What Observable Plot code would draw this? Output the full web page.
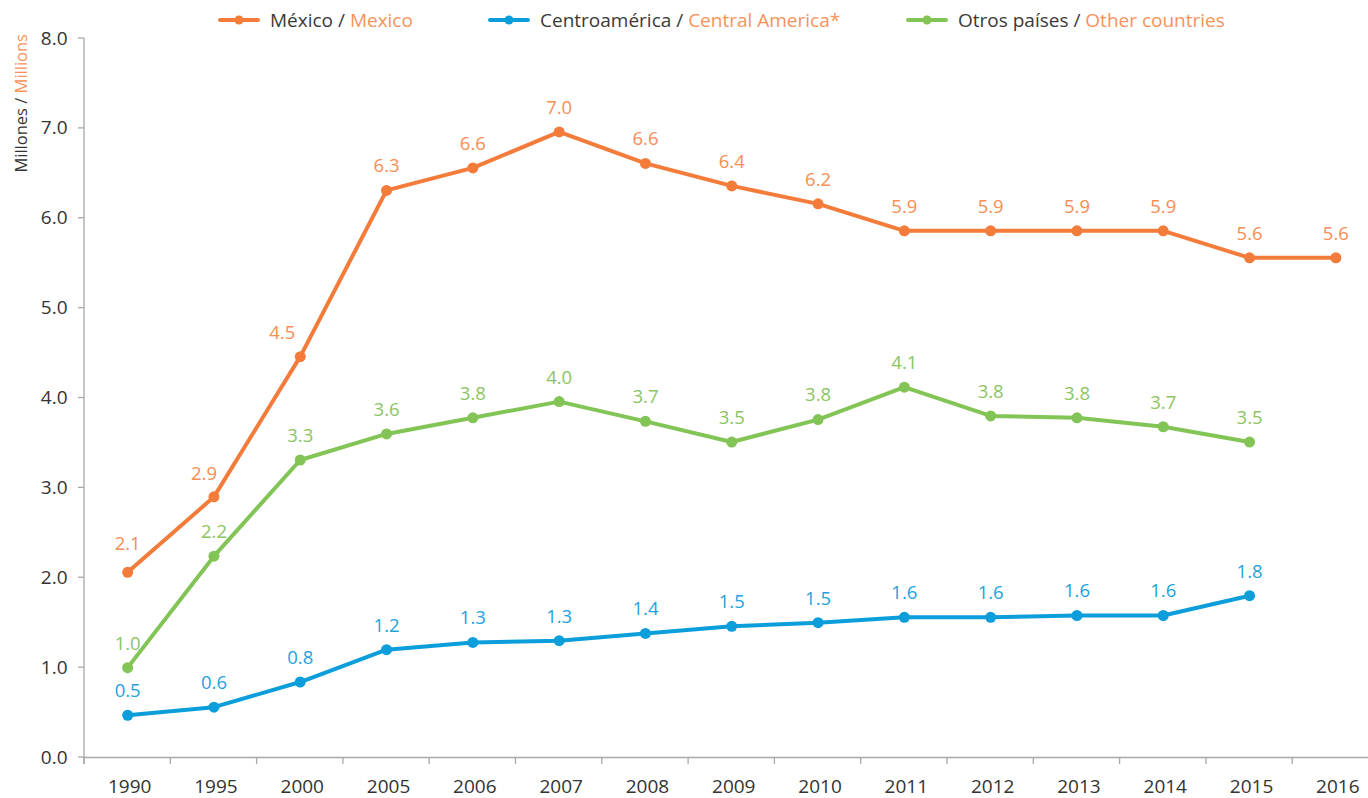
<!DOCTYPE html>
<html>
<head>
<meta charset="utf-8">
<script src="https://cdn.jsdelivr.net/npm/d3@7"></script>
<script src="https://cdn.jsdelivr.net/npm/@observablehq/plot@0.6"></script>
<style>
  html, body { margin: 0; padding: 0; background: #fff; }
  body { font-family: "Open Sans", sans-serif; }
  #wrap { position: relative; width: 1368px; height: 798px; overflow: hidden; }
  #legend { position: relative; width: 1368px; height: 0; z-index: 2; }
  .item { position: absolute; top: 8px; height: 24px; display: flex; align-items: center;
          font-size: 19px; color: #3a3a3a; white-space: nowrap; }
  .item svg { margin-right: 10px; }
  .en { color: #f7925a; }
  #chart svg { display: block; }
</style>
</head>
<body>
<div id="wrap">
  <div id="legend"></div>
  <div id="chart"></div>
</div>
<script>
// ---- data ----
const years = ["1990","1995","2000","2005","2006","2007","2008","2009","2010","2011","2012","2013","2014","2015","2016"];
const mexico = [2.06, 2.90, 4.46, 6.31, 6.56, 6.96, 6.61, 6.36, 6.16, 5.86, 5.86, 5.86, 5.86, 5.56, 5.56];
const centralAmerica = [0.47, 0.56, 0.84, 1.20, 1.28, 1.30, 1.38, 1.46, 1.50, 1.56, 1.56, 1.58, 1.58, 1.80, null];
const otherCountries = [1.00, 2.24, 3.31, 3.60, 3.78, 3.96, 3.74, 3.51, 3.76, 4.12, 3.80, 3.78, 3.68, 3.51, null];
const seriesEs = ["México", "Centroamérica", "Otros países"];
const seriesEn = ["Mexico", "Central America*", "Other countries"];
const yTicks = [0, 1, 2, 3, 4, 5, 6, 7, 8];
const yLabelEs = "Millones";
const yLabelEn = "Millions";

// ---- styles ----
const lineColors = ["#f47c3a", "#0b9edb", "#82c455"];
const labelColors = ["#f68e55", "#22a3dd", "#8cc463"];
const legendLeft = [218, 488, 906];
// label nudges (pixels) for labels moved off the line in the original
const labelNudge = {"México|1990": [0, -28], "México|1995": [-10, -23], "México|2000": [-18, -24]};
const defaultNudge = [0, -24];

const allValues = [mexico, centralAmerica, otherCountries];
const seriesRows = allValues.map((vals, s) =>
  years.map((year, i) => ({year, value: vals[i], series: seriesEs[s]})).filter(d => d.value != null)
);
const nudge = d => labelNudge[d.series + "|" + d.year] || defaultNudge;

// ---- legend ----
const legend = document.getElementById("legend");
seriesEs.forEach((name, s) => {
  const item = document.createElement("div");
  item.className = "item";
  item.style.left = legendLeft[s] + "px";
  item.innerHTML =
    `<svg width="42" height="12"><line x1="2" x2="40" y1="6" y2="6" stroke="${lineColors[s]}" stroke-width="4" stroke-linecap="round"/>` +
    `<circle cx="21" cy="6" r="4.5" fill="${lineColors[s]}"/></svg>` +
    `<span>${name} / <span class="en">${seriesEn[s]}</span></span>`;
  legend.appendChild(item);
});

// ---- custom axis decorations ----
function axisDecor(index, scales, values, dims) {
  const {x, y} = scales;
  const g = d3.create("svg:g").attr("stroke", "#a8a8a8").attr("stroke-width", 1.3);
  const left = dims.marginLeft;
  g.append("line").attr("x1", left).attr("x2", left).attr("y1", y(8)).attr("y2", y(0) + 7);
  for (const t of yTicks) {
    g.append("line").attr("x1", left - 6).attr("x2", left).attr("y1", y(t)).attr("y2", y(t));
  }
  for (const yr of years) {
    const px = x(yr);
    g.append("line").attr("x1", px).attr("x2", px).attr("y1", y(0)).attr("y2", y(0) + 7);
  }
  const t = g.append("text")
    .attr("stroke", "none")
    .attr("transform", `translate(27, 34) rotate(-90)`)
    .attr("text-anchor", "end")
    .attr("font-size", 16.5);
  t.append("tspan").attr("fill", "#333").text(yLabelEs + " / ");
  t.append("tspan").attr("fill", "#f7925a").text(yLabelEn);
  return g.node();
}

const marks = [
  Plot.ruleY([0], {stroke: "#a8a8a8", strokeWidth: 1.3}),
  Plot.axisY({ticks: yTicks, tickFormat: d => d.toFixed(1), tickSize: 0, tickPadding: 17, fontSize: 19, fill: "#333"}),
  Plot.axisX({tickSize: 0, tickPadding: 22, fontSize: 19, fill: "#333", dx: 2}),
  axisDecor
];
[1, 2, 0].forEach(s => {
  marks.push(Plot.line(seriesRows[s], {x: "year", y: "value", stroke: lineColors[s], strokeWidth: 4}));
  marks.push(Plot.dot(seriesRows[s], {x: "year", y: "value", fill: lineColors[s], r: 5.5}));
  const rows = seriesRows[s];
  const groups = d3.group(rows, d => nudge(d).join(","));
  for (const [key, grp] of groups) {
    const [dx, dy] = key.split(",").map(Number);
    marks.push(Plot.text(grp, {x: "year", y: "value", text: d => d.value.toFixed(1), dx, dy, fill: labelColors[s], fontSize: 18.5}));
  }
});

const chart = Plot.plot({
  width: 1368,
  height: 798,
  marginTop: 38,
  marginBottom: 41,
  marginLeft: 84,
  marginRight: 0,
  style: {fontFamily: "Open Sans, sans-serif", fontSize: "19px", background: "transparent", color: "#333"},
  x: {type: "band", domain: years, range: [84, 1378.5], padding: 0, round: false, label: null},
  y: {domain: [0, 8], label: null},
  marks
});
document.getElementById("chart").appendChild(chart);
</script>
</body>
</html>
